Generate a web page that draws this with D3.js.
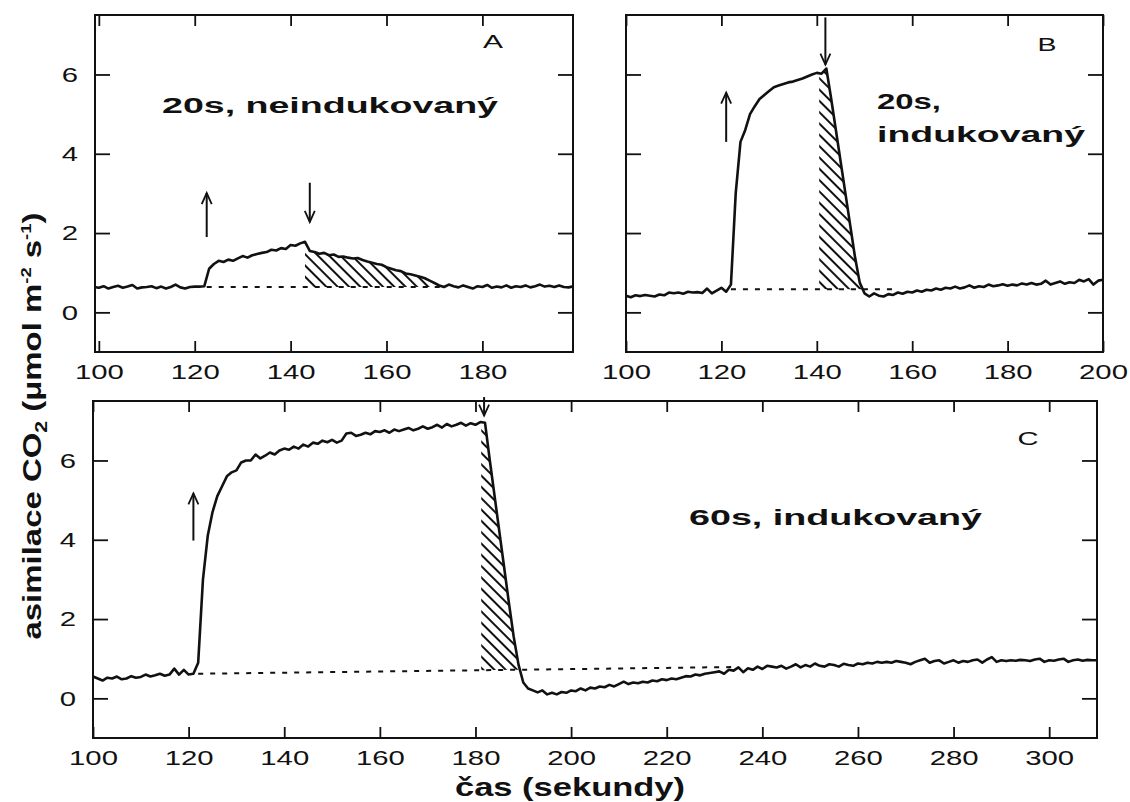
<!DOCTYPE html>
<html>
<head>
<meta charset="utf-8">
<script src="https://cdn.jsdelivr.net/npm/d3@7"></script>
<style>
  body { margin: 0; background: #fff; }
  svg text { font-family: "Liberation Sans", Arial, sans-serif; fill: #111; }
</style>
</head>
<body>
<svg width="1130" height="802"></svg>
<script>
// CO2 assimilation, one value per second
var startA = 99, startB = 100, startC = 100;

var valuesA = [
  0.64, 0.62, 0.66, 0.60, 0.64, 0.67, 0.62, 0.65, 0.69, 0.60,
  0.63, 0.64, 0.66, 0.61, 0.65, 0.60, 0.64, 0.70, 0.63, 0.60,
  0.64, 0.65, 0.65, 0.66, 1.10, 1.22, 1.30, 1.27, 1.33, 1.30,
  1.36, 1.42, 1.38, 1.44, 1.47, 1.50, 1.52, 1.58, 1.56, 1.62,
  1.60, 1.70, 1.68, 1.74, 1.78, 1.55, 1.52, 1.48, 1.50, 1.44,
  1.46, 1.40, 1.41, 1.38, 1.36, 1.37, 1.32, 1.28, 1.25, 1.22,
  1.20, 1.14, 1.10, 1.06, 1.04, 0.98, 0.96, 0.93, 0.90, 0.86,
  0.80, 0.74, 0.68, 0.64, 0.70, 0.66, 0.63, 0.68, 0.64, 0.60,
  0.66, 0.64, 0.69, 0.62, 0.65, 0.63, 0.68, 0.62, 0.66, 0.64,
  0.68, 0.63, 0.66, 0.70, 0.65, 0.67, 0.64, 0.68, 0.64, 0.63,
  0.66
];

var valuesB = [
  0.42, 0.38, 0.43, 0.41, 0.44, 0.42, 0.40, 0.45, 0.43, 0.50,
  0.48, 0.50, 0.47, 0.52, 0.50, 0.51, 0.49, 0.60, 0.48, 0.55,
  0.62, 0.52, 0.70, 3.00, 4.30, 4.60, 5.00, 5.20, 5.38, 5.48,
  5.58, 5.68, 5.72, 5.76, 5.80, 5.82, 5.86, 5.90, 5.95, 6.00,
  6.04, 6.02, 6.15, 5.40, 4.60, 3.80, 3.00, 2.20, 1.40, 0.75,
  0.48, 0.40, 0.48, 0.42, 0.40, 0.46, 0.44, 0.50, 0.47, 0.52,
  0.50, 0.55, 0.52, 0.57, 0.55, 0.60, 0.57, 0.62, 0.60, 0.65,
  0.60, 0.63, 0.68, 0.62, 0.66, 0.64, 0.70, 0.66, 0.68, 0.71,
  0.67, 0.70, 0.68, 0.73, 0.70, 0.74, 0.70, 0.72, 0.80, 0.70,
  0.74, 0.78, 0.72, 0.76, 0.74, 0.82, 0.78, 0.84, 0.70, 0.80,
  0.82
];

var valuesC = [
  0.55, 0.50, 0.45, 0.52, 0.50, 0.55, 0.48, 0.50, 0.56, 0.52,
  0.54, 0.60, 0.55, 0.58, 0.62, 0.57, 0.60, 0.75, 0.60, 0.72,
  0.60, 0.62, 0.90, 3.00, 4.10, 4.70, 5.10, 5.35, 5.60, 5.70,
  5.75, 5.95, 6.00, 6.00, 6.15, 6.05, 6.12, 6.20, 6.15, 6.25,
  6.30, 6.27, 6.35, 6.30, 6.40, 6.35, 6.45, 6.42, 6.50, 6.46,
  6.52, 6.45, 6.50, 6.68, 6.70, 6.62, 6.65, 6.70, 6.66, 6.74,
  6.72, 6.76, 6.70, 6.78, 6.74, 6.78, 6.82, 6.76, 6.80, 6.86,
  6.80, 6.84, 6.90, 6.83, 6.92, 6.86, 6.90, 6.95, 6.88, 6.94,
  6.90, 6.97, 6.95, 6.00, 5.10, 4.20, 3.30, 2.40, 1.55, 0.85,
  0.40, 0.25, 0.20, 0.15, 0.20, 0.10, 0.14, 0.10, 0.16, 0.14,
  0.20, 0.18, 0.25, 0.20, 0.27, 0.25, 0.30, 0.28, 0.34, 0.30,
  0.36, 0.42, 0.36, 0.40, 0.38, 0.42, 0.40, 0.45, 0.43, 0.48,
  0.46, 0.50, 0.48, 0.52, 0.56, 0.55, 0.60, 0.58, 0.62, 0.64,
  0.66, 0.68, 0.62, 0.72, 0.70, 0.78, 0.66, 0.76, 0.72, 0.80,
  0.74, 0.82, 0.80, 0.78, 0.82, 0.75, 0.80, 0.86, 0.78, 0.84,
  0.80, 0.88, 0.82, 0.80, 0.86, 0.84, 0.80, 0.87, 0.84, 0.82,
  0.88, 0.86, 0.90, 0.88, 0.92, 0.90, 0.92, 0.90, 0.94, 0.92,
  0.90, 0.86, 0.92, 0.96, 1.00, 0.90, 0.94, 0.96, 0.88, 0.92,
  0.96, 0.90, 0.94, 0.92, 0.96, 0.98, 0.90, 0.98, 1.04, 0.92,
  0.96, 0.94, 0.96, 0.95, 0.97, 0.96, 0.94, 0.98, 1.00, 0.92,
  0.96, 0.95, 0.98, 1.00, 0.92, 0.96, 0.98, 0.95, 0.97, 0.96,
  0.96
];

// dashed dark baseline, [time, value] at both ends
var baseA = [[122.5, 0.64], [171.5, 0.64]];
var baseB = [[122, 0.58], [157, 0.58]];
var baseC = [[122, 0.62], [234, 0.79]];

// hatched post-illumination burst, [from, to] in s
var hatchA = [143, 171.5];
var hatchB = [140.5, 149.6];
var hatchC = [181.2, 189.3];

// light on / off arrows: [time, tail value, head value]
var arrowsA = [[122.5, 1.9, 3.01], [144, 3.27, 2.28]];
var arrowsB = [[121, 4.3, 5.54], [141.8, 7.44, 6.25]];
var arrowsC = [[121, 3.98, 5.17], [181.8, 7.6, 7.13]];

var ticksA = [100, 120, 140, 160, 180];
var ticksB = [100, 120, 140, 160, 180, 200];
var ticksC = [100, 120, 140, 160, 180, 200, 220, 240, 260, 280, 300];
var ticksY = [0, 2, 4, 6];
var yDomain = [-1, 7.5];

var svg = d3.select("svg");
var defs = svg.append("defs");

defs.append("pattern")
    .attr("id", "hatch")
    .attr("patternUnits", "userSpaceOnUse")
    .attr("width", 8).attr("height", 8)
    .attr("patternTransform", "rotate(-45)")
  .append("line")
    .attr("x1", 4).attr("y1", 0).attr("x2", 4).attr("y2", 8)
    .attr("stroke", "#111").attr("stroke-width", 2);

var panels = [
  {name: "A", start: startA, values: valuesA, base: baseA, hatch: hatchA, arrows: arrowsA,
   ticks: ticksA, xDomain: [99.2, 198.9], yLabels: true, left: 95, right: 573, top: 15, bottom: 352},
  {name: "B", start: startB, values: valuesB, base: baseB, hatch: hatchB, arrows: arrowsB,
   ticks: ticksB, xDomain: [100, 200], yLabels: false, left: 626, right: 1103, top: 15, bottom: 352},
  {name: "C", start: startC, values: valuesC, base: baseC, hatch: hatchC, arrows: arrowsC,
   ticks: ticksC, xDomain: [100, 310], yLabels: true, left: 93, right: 1097, top: 401, bottom: 738}
];

panels.forEach(function(p) {
    var x = d3.scaleLinear().domain(p.xDomain).range([p.left, p.right]);
    var y = d3.scaleLinear().domain(yDomain).range([p.bottom, p.top]);
    var g = svg.append("g");

    var series = p.values.map(function(v, i) { return [p.start + i, v]; });
    var baseAt = d3.scaleLinear()
        .domain([p.base[0][0], p.base[1][0]])
        .range([p.base[0][1], p.base[1][1]]);

    // hatch, clipped to the burst interval
    defs.append("clipPath").attr("id", "clip" + p.name)
      .append("rect")
        .attr("x", x(p.hatch[0])).attr("y", p.top)
        .attr("width", x(p.hatch[1]) - x(p.hatch[0]))
        .attr("height", p.bottom - p.top);

    var area = d3.area()
        .x(function(d) { return x(d[0]); })
        .y0(function(d) { return y(baseAt(d[0])); })
        .y1(function(d) { return y(d[1]); });

    g.append("path")
        .datum(series.filter(function(d) { return d[0] >= p.hatch[0] - 1 && d[0] <= p.hatch[1] + 1; }))
        .attr("clip-path", "url(#clip" + p.name + ")")
        .attr("fill", "url(#hatch)")
        .attr("d", area);

    var line = d3.line()
        .x(function(d) { return x(d[0]); })
        .y(function(d) { return y(d[1]); });

    g.append("path")
        .datum(p.base)
        .attr("fill", "none").attr("stroke", "#111")
        .attr("stroke-width", 2).attr("stroke-dasharray", "5,7")
        .attr("d", line);

    g.append("path")
        .datum(series)
        .attr("fill", "none").attr("stroke", "#111")
        .attr("stroke-width", 2.6).attr("stroke-linejoin", "round")
        .attr("d", line);

    // axes, ticks pointing inwards on all four sides
    g.append("g").attr("transform", "translate(0," + p.bottom + ")")
        .call(d3.axisBottom(x).tickValues(p.ticks).tickSizeInner(-11).tickSizeOuter(0)
              .tickPadding(12).tickFormat(d3.format("d")));
    g.append("g").attr("transform", "translate(0," + p.top + ")")
        .call(d3.axisTop(x).tickValues(p.ticks).tickSizeInner(-11).tickSizeOuter(0).tickFormat(""));
    g.append("g").attr("transform", "translate(" + p.left + ",0)")
        .call(d3.axisLeft(y).tickValues(ticksY).tickSizeInner(-15).tickSizeOuter(0)
              .tickPadding(17).tickFormat(p.yLabels ? d3.format("d") : ""));
    g.append("g").attr("transform", "translate(" + p.right + ",0)")
        .call(d3.axisRight(y).tickValues(ticksY).tickSizeInner(-15).tickSizeOuter(0).tickFormat(""));

    g.selectAll(".domain").remove();
    g.selectAll(".tick line").attr("stroke", "#111").attr("stroke-width", 1.8);
    g.selectAll(".tick text")
        .attr("font-size", 21).attr("fill", "#111")
        .each(function() {
            var t = d3.select(this), s = t.text();
            if (s) t.attr("textLength", 16.3 * s.length).attr("lengthAdjust", "spacingAndGlyphs");
        });

    g.append("rect")
        .attr("x", p.left).attr("y", p.top)
        .attr("width", p.right - p.left).attr("height", p.bottom - p.top)
        .attr("fill", "none").attr("stroke", "#111").attr("stroke-width", 2);

    // light on/off arrows
    p.arrows.forEach(function(a) {
        var ax = x(a[0]), tail = y(a[1]), head = y(a[2]);
        var back = head < tail ? 11 : -11;
        g.append("line")
            .attr("x1", ax).attr("x2", ax).attr("y1", tail).attr("y2", head)
            .attr("stroke", "#111").attr("stroke-width", 2);
        g.append("path")
            .attr("d", "M" + (ax - 5) + "," + (head + back) + "L" + ax + "," + head + "L" + (ax + 5) + "," + (head + back))
            .attr("fill", "none").attr("stroke", "#111").attr("stroke-width", 1.8);
    });
});

// panel letters and condition notes
function note(txt, px, py, size, weight, len, anchor) {
    svg.append("text")
        .attr("x", px).attr("y", py)
        .attr("font-size", size).attr("font-weight", weight)
        .attr("text-anchor", anchor || "start")
        .attr("textLength", len).attr("lengthAdjust", "spacingAndGlyphs")
        .text(txt);
}
note("A", 493, 48, 18, "normal", 20, "middle");
note("B", 1047, 51, 18, "normal", 19, "middle");
note("C", 1028, 445, 18, "normal", 21, "middle");
note("20s, neindukovaný", 162, 113, 22, "bold", 336);
note("20s,", 877, 109, 22, "bold", 64);
note("indukovaný", 877, 142, 22, "bold", 208);
note("60s, indukovaný", 689, 525, 22, "bold", 293);

// axis titles
note("čas (sekundy)", 570, 796, 26, "bold", 230, "middle");

var yTitle = svg.append("text")
    .attr("transform", "translate(41,426) rotate(-90)")
    .attr("text-anchor", "middle")
    .attr("font-size", 25).attr("font-weight", "bold")
    .attr("textLength", 427).attr("lengthAdjust", "spacingAndGlyphs");
yTitle.append("tspan").text("asimilace CO");
yTitle.append("tspan").attr("font-size", 16).attr("dy", 6).text("2");
yTitle.append("tspan").attr("dy", -6).text(" (μmol m");
yTitle.append("tspan").attr("font-size", 14).attr("dy", -10).text("-2");
yTitle.append("tspan").attr("dy", 10).text(" s");
yTitle.append("tspan").attr("font-size", 14).attr("dy", -10).text("-1");
yTitle.append("tspan").attr("dy", 10).text(")");
</script>
</body>
</html>
